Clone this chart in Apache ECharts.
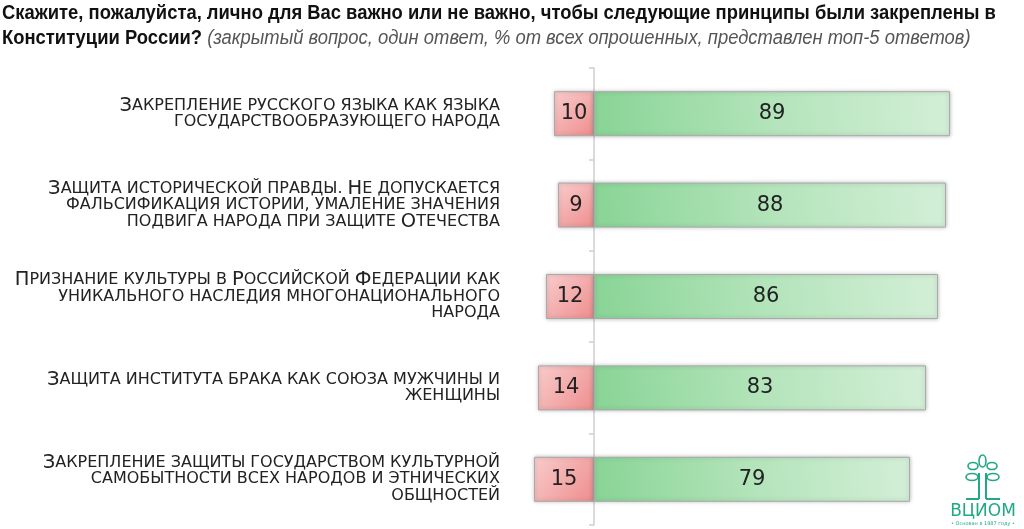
<!DOCTYPE html>
<html>
<head>
<meta charset="utf-8">
<script src="https://cdn.jsdelivr.net/npm/echarts@6/dist/echarts.min.js"></script>
<style>
  html, body { margin: 0; padding: 0; background: #fff; }
  #chart { width: 1024px; height: 529px; }
</style>
</head>
<body>
<div id="chart"></div>
<script>
// данные
const categories = [
  'Закрепление русского языка как языка\nгосударствообразующего народа',
  'Защита исторической правды. Не допускается\nфальсификация истории, умаление значения\nподвига народа при защите Отечества',
  'Признание культуры в Российской Федерации как\nуникального наследия многонационального\nнарода',
  'Защита института брака как союза мужчины и\nженщины',
  'Закрепление защиты государством культурной\nсамобытности всех народов и этнических\nобщностей'
];
const notImportant = [10, 9, 12, 14, 15];
const important = [89, 88, 86, 83, 79];

const titleLine1 = 'Скажите, пожалуйста, лично для Вас важно или не важно, чтобы следующие принципы были закреплены в';
const titleLine2 = 'Конституции России?';
const titleNote = '(закрытый вопрос, один ответ, % от всех опрошенных, представлен топ-5 ответов)';

// капитель: заглавные крупно, строчные — мелкими заглавными
function smallCaps(text) {
  return text.split('\n').map(line =>
    line.replace(/([А-ЯЁA-Z]+)|([^А-ЯЁA-Z]+)/g, (m, up, low) =>
      up ? '{b|' + up + '}' : '{s|' + low.toUpperCase() + '}')
  ).join('\n');
}

let el = document.getElementById('chart');
let myChart = echarts.init(el);

const redFill = new echarts.graphic.LinearGradient(0, 0, 1, 1, [
  { offset: 0, color: '#f9cccc' },
  { offset: 1, color: '#ee8d8d' }
]);
const greenFill = new echarts.graphic.LinearGradient(0, 1, 1, 0, [
  { offset: 0, color: '#88d495' },
  { offset: 0.5, color: '#b3e4ba' },
  { offset: 1, color: '#d3efd7' }
]);
const logoColor = '#22a884';

let option = {
  animation: false,
  grid: { left: 514, right: 30, top: 68, bottom: 4 },
  xAxis: {
    type: 'value',
    min: -20,
    max: 100,
    show: false
  },
  yAxis: {
    type: 'category',
    inverse: true,
    data: categories,
    axisLine: { onZero: true, lineStyle: { color: '#cfcfcf', width: 1.5 } },
    axisTick: { show: true, length: 5, lineStyle: { color: '#cfcfcf', width: 1.5 } },
    axisLabel: {
      margin: 14,
      align: 'right',
      formatter: smallCaps,
      rich: {
        b: { fontFamily: '"DejaVu Sans", sans-serif', fontSize: 19.5, color: '#222', lineHeight: 16.5 },
        s: { fontFamily: '"DejaVu Sans", sans-serif', fontSize: 16, color: '#222', lineHeight: 16.5 }
      }
    }
  },
  series: [
    {
      name: 'Не важно',
      type: 'bar',
      data: notImportant.map(v => -v),
      barWidth: 45,
      barGap: '-100%',
      itemStyle: {
        color: redFill,
        borderColor: '#a9a9a9',
        borderWidth: 1,
        shadowBlur: 4,
        shadowColor: 'rgba(0,0,0,0.25)'
      },
      label: {
        show: true,
        position: 'inside',
        formatter: p => Math.abs(p.value),
        fontFamily: '"DejaVu Sans", sans-serif',
        fontSize: 21,
        color: '#222'
      }
    },
    {
      name: 'Важно',
      type: 'bar',
      data: important,
      barWidth: 45,
      itemStyle: {
        color: greenFill,
        borderColor: '#a9a9a9',
        borderWidth: 1,
        shadowBlur: 4,
        shadowColor: 'rgba(0,0,0,0.25)'
      },
      label: {
        show: true,
        position: 'inside',
        fontFamily: '"DejaVu Sans", sans-serif',
        fontSize: 21,
        color: '#222'
      }
    }
  ],
  graphic: [
    {
      // заголовок, шрифт сжат по горизонтали
      type: 'text',
      x: 2,
      y: 1,
      scaleX: 0.92,
      style: {
        text: '{b|' + titleLine1 + '}\n{b|' + titleLine2 + '}{i| ' + titleNote + '}',
        rich: {
          b: {
            fontFamily: '"Liberation Sans", sans-serif',
            fontWeight: 'bold', fontSize: 20, fill: '#111', lineHeight: 25
          },
          i: {
            fontFamily: '"Liberation Sans", sans-serif',
            fontWeight: 'normal', fontStyle: 'italic', fontSize: 20, fill: '#555', lineHeight: 25
          }
        }
      }
    },
    {
      type: 'group',
      x: 946,
      y: 455,
      children: [
        { type: 'line', shape: { x1: 33, y1: 18, x2: 33, y2: 44 }, style: { stroke: logoColor, lineWidth: 2 } },
        { type: 'line', shape: { x1: 40, y1: 18, x2: 40, y2: 44 }, style: { stroke: logoColor, lineWidth: 2 } },
        { type: 'line', shape: { x1: 20, y1: 44, x2: 33, y2: 44 }, style: { stroke: logoColor, lineWidth: 2 } },
        { type: 'line', shape: { x1: 40, y1: 44, x2: 54, y2: 44 }, style: { stroke: logoColor, lineWidth: 2 } },
        { type: 'ellipse', shape: { cx: 36.5, cy: 6, rx: 3.5, ry: 6 }, style: { fill: 'none', stroke: logoColor, lineWidth: 1.6 } },
        { type: 'ellipse', shape: { cx: 27, cy: 11, rx: 5, ry: 3.5 }, style: { fill: 'none', stroke: logoColor, lineWidth: 1.6 } },
        { type: 'ellipse', shape: { cx: 46, cy: 11, rx: 5, ry: 3.5 }, style: { fill: 'none', stroke: logoColor, lineWidth: 1.6 } },
        { type: 'ellipse', shape: { cx: 26, cy: 22, rx: 6, ry: 3.5 }, style: { fill: 'none', stroke: logoColor, lineWidth: 1.6 } },
        { type: 'ellipse', shape: { cx: 47, cy: 22, rx: 6, ry: 3.5 }, style: { fill: 'none', stroke: logoColor, lineWidth: 1.6 } },
        {
          type: 'text', x: 37, y: 48,
          style: { text: 'ВЦИОМ', fill: logoColor, font: '17px "DejaVu Sans", sans-serif', textAlign: 'center' }
        },
        {
          type: 'text', x: 37, y: 66,
          style: { text: '• Основан в 1987 году •', fill: logoColor, font: '5px "DejaVu Sans", sans-serif', textAlign: 'center' }
        }
      ]
    }
  ]
};

myChart.setOption(option);
</script>
</body>
</html>
